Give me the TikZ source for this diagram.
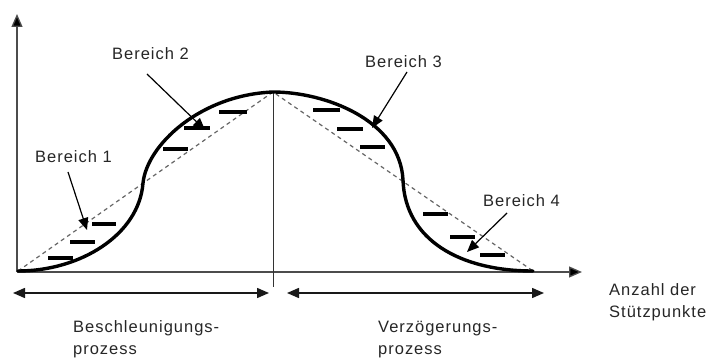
\documentclass[tikz,border=0pt]{standalone}
\usepackage{fontspec}
\setmainfont{Liberation Sans}[LetterSpace=6]
\usetikzlibrary{arrows.meta}
\begin{document}
\begin{tikzpicture}[x=1pt,y=-1pt,
  lbl/.style={inner sep=0pt, anchor=base west, text=black!85,
    font=\fontsize{16.5}{21.5}\selectfont},
  axisline/.style={line width=1.3pt, draw=black!70,
    -{Triangle[length=13pt,width=11pt,fill=black]}},
  span/.style={line width=1.5pt, draw=black!90,
    {Triangle[length=12pt,width=10pt]}-{Triangle[length=12pt,width=10pt]}},
  curve/.style={line width=3.4pt, line cap=round},
  guide/.style={line width=1.2pt, draw=black!60, dash pattern=on 4pt off 3.5pt},
  bar/.style={line width=3.6pt},
  pointer/.style={line width=1.2pt, -{Triangle[length=12pt,width=10pt]}}]
\useasboundingbox (0,0) rectangle (712,358);

% axes
\coordinate (O) at (17,272);
\coordinate (ytip) at (17,14);
\coordinate (xtip) at (582,272);
\draw[axisline] (O) -- (ytip);
\draw[axisline] (O) -- (xtip);

% vertical divider
\coordinate (vtop) at (273,92);
\coordinate (vbot) at (273,287);
\draw[line width=1pt, draw=black!80] (vtop) -- (vbot);

% dashed guide lines
\coordinate (s0) at (18,271);
\coordinate (s4) at (533,271);
\draw[guide] (s0) -- (vtop) -- (s4);

% the curve
\draw[curve] (s0) .. controls (80,271) and (139,235) .. (143,183)
  .. controls (147,145) and (200,95) .. (vtop)
  .. controls (325,92) and (400,120) .. (403,180)
  .. controls (405,240) and (460,271) .. (s4);

% step bars
\foreach \xa/\xb/\yy in {48/73/258, 70/95/242, 92/116/224,
                        163/188/149, 184/210/128, 219/247/112,
                        313/340/110, 337/363/129, 360/385/147,
                        423/448/214, 450/475/237, 480/505/255}
  \draw[bar] (\xa,\yy) -- (\xb,\yy);

% spans
\coordinate (l1) at (13,293);
\coordinate (l2) at (269,293);
\coordinate (r1) at (287,293);
\coordinate (r2) at (544,293);
\draw[span] (l1) -- (l2);
\draw[span] (r1) -- (r2);

% labels
\node[lbl] (b1) at (35,163) {Bereich 1};
\node[lbl] (b2) at (112,60) {Bereich 2};
\node[lbl] (b3) at (365,68) {Bereich 3};
\node[lbl] (b4) at (483,207) {Bereich 4};
\node[lbl, align=left] (anz) at (609,317) {Anzahl der\\Stützpunkte};
\node[lbl, align=left] (bes) at (73,354) {Beschleunigungs-\\prozess};
\node[lbl, align=left] (ver) at (378,354) {Verzögerungs-\\prozess};

% pointers
\coordinate (p1s) at (68,172);  \coordinate (p1e) at (87,230);
\coordinate (p2s) at (147,74);  \coordinate (p2e) at (205,130);
\coordinate (p3s) at (407,72);  \coordinate (p3e) at (372,128);
\coordinate (p4s) at (507,213); \coordinate (p4e) at (467,252);
\draw[pointer] (p1s) -- (p1e);
\draw[pointer] (p2s) -- (p2e);
\draw[pointer] (p3s) -- (p3e);
\draw[pointer] (p4s) -- (p4e);
\end{tikzpicture}
\end{document}
